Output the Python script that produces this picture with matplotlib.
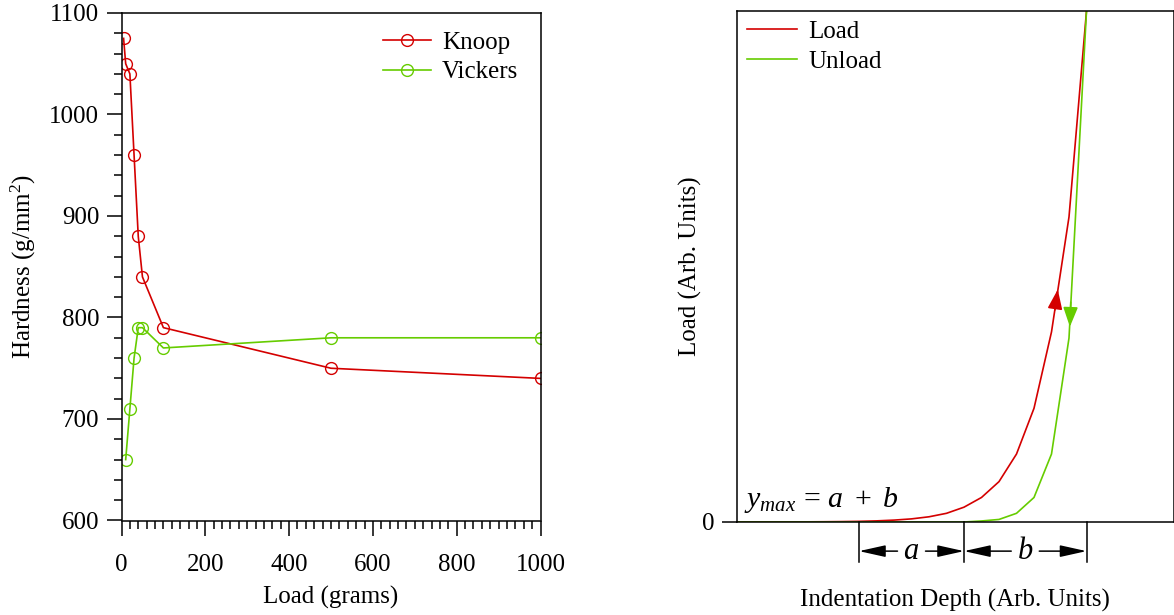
import numpy as np
import matplotlib.pyplot as plt
from matplotlib.ticker import MultipleLocator
import matplotlib.transforms as mtransforms

plt.rcParams['font.family'] = 'Liberation Serif'
plt.rcParams['mathtext.fontset'] = 'custom'
plt.rcParams['mathtext.rm'] = 'Liberation Serif'
plt.rcParams['mathtext.it'] = 'Liberation Serif:italic'
plt.rcParams['font.size'] = 18

RED = '#d40000'
GREEN = '#66cc00'

# hardness vs load
knoop_load = [5, 10, 20, 30, 40, 50, 100, 500, 1000]
knoop_hard = [1075, 1050, 1040, 960, 880, 840, 790, 750, 740]
vickers_load = [10, 20, 30, 40, 50, 100, 500, 1000]
vickers_hard = [660, 710, 760, 790, 790, 770, 780, 780]

# load / unload curves (arbitrary units)
depth = list(range(21))
load_curve = [0, 0.0001, 0.0001, 0.0002, 0.0003, 0.0005, 0.0008, 0.0013, 0.0022,
              0.0037, 0.0061, 0.0102, 0.017, 0.029, 0.048, 0.079, 0.133, 0.2225,
              0.372, 0.597, 1.0]
unload_curve = [0, 0, 0, 0, 0, 0, 0, 0, 0, 0, 0, 0, 0, 0, 0.002, 0.005, 0.017,
                0.048, 0.133, 0.36, 1.0]
a_span = (7, 13)
b_span = (13, 20)

W, H = 1174, 615
fig = plt.figure(figsize=(W / 100, H / 100), dpi=100)

# ---- left panel
ax1 = fig.add_axes([121.5 / W, 1 - 520.5 / H, 419 / W, 507.5 / H])
ax1.plot(knoop_load, knoop_hard, color=RED, lw=1.2, marker='o', ms=8.5,
         mfc='none', mec=RED, mew=1.0, label='Knoop')
ax1.plot(vickers_load, vickers_hard, color=GREEN, lw=1.2, marker='o', ms=8.5,
         mfc='none', mec=GREEN, mew=1.0, label='Vickers')
ax1.set_xlim(0, 1000)
ax1.set_ylim(600, 1100)
ax1.xaxis.set_major_locator(MultipleLocator(200))
ax1.xaxis.set_minor_locator(MultipleLocator(20))
ax1.yaxis.set_major_locator(MultipleLocator(100))
ax1.yaxis.set_minor_locator(MultipleLocator(20))
ax1.tick_params(which='both', direction='out', top=False, right=False, width=1.1)
ax1.tick_params(which='major', length=11)
ax1.tick_params(axis='y', which='major', pad=5)
ax1.tick_params(axis='x', which='major', pad=13)
ax1.tick_params(which='minor', length=6)
ax1.set_xlabel('Load (grams)', labelpad=7)
ax1.set_ylabel('Hardness (g/mm$^{2}$)', labelpad=8)
for s in ax1.spines.values():
    s.set_linewidth(1.1)
ax1.legend(loc='upper left', bbox_to_anchor=(383 / W, 1 - 31 / H),
           bbox_transform=fig.transFigure, frameon=False, borderpad=0,
           borderaxespad=0, handlelength=1.9, handletextpad=0.45,
           labelspacing=0.3)

# ---- right panel
ax2 = fig.add_axes([736.5 / W, 1 - 522 / H, 437.5 / W, 511 / H])
ax2.plot(depth, load_curve, color=RED, lw=1.2, label='Load')
ax2.plot(depth, unload_curve, color=GREEN, lw=1.2, label='Unload')
ax2.set_xlim(0, 25)
ax2.set_ylim(0, 1)
ax2.set_xticks([])
ax2.set_yticks([0])
ax2.tick_params(direction='out', length=11, width=1.1, pad=5)
for s in ax2.spines.values():
    s.set_linewidth(1.1)
ax2.set_xlabel('Indentation Depth (Arb. Units)', labelpad=48)
ax2.set_ylabel('Load (Arb. Units)', labelpad=0)
ax2.legend(loc='upper left', bbox_to_anchor=(747 / W, 1 - 20 / H),
           bbox_transform=fig.transFigure, frameon=False, borderpad=0,
           borderaxespad=0, handlelength=2.0, handletextpad=0.45,
           labelspacing=0.3)

# direction arrows on the curves
ax2.annotate('', xy=(18.36, 0.455), xytext=(18.19, 0.415),
             arrowprops=dict(arrowstyle='-|>,head_length=0.8,head_width=0.3',
                             color=RED, lw=1.2, mutation_scale=15,
                             shrinkA=0, shrinkB=0))
ax2.annotate('', xy=(19.05, 0.382), xytext=(19.1, 0.43),
             arrowprops=dict(arrowstyle='-|>,head_length=0.8,head_width=0.3',
                             color=GREEN, lw=1.2, mutation_scale=15,
                             shrinkA=0, shrinkB=0))

ax2.text(0.45, 0.03, r'$y_{max}\,=\,a\ +\ b$', fontsize=21.5, ha='left',
         va='baseline')

# dimension lines below the axis
trans = mtransforms.blended_transform_factory(ax2.transData, ax2.transAxes)
for xv in (a_span[0], a_span[1], b_span[1]):
    ax2.plot([xv, xv], [0, -0.078], color='black', lw=1.1, transform=trans,
             clip_on=False)
dim_y = -0.057
arrow_style = dict(arrowstyle='-|>,head_length=0.9,head_width=0.2',
                   color='black', lw=1.1, mutation_scale=18,
                   shrinkA=0, shrinkB=0)
for (x0, x1), name in ((a_span, 'a'), (b_span, 'b')):
    mid = (x0 + x1) / 2
    ax2.annotate('', xy=(x0, dim_y), xytext=(mid - 0.8, dim_y),
                 xycoords=trans, textcoords=trans, arrowprops=arrow_style,
                 annotation_clip=False)
    ax2.annotate('', xy=(x1, dim_y), xytext=(mid + 0.8, dim_y),
                 xycoords=trans, textcoords=trans, arrowprops=arrow_style,
                 annotation_clip=False)
    ax2.text(mid, dim_y, '$' + name + '$', fontsize=22, ha='center',
             va='center', transform=trans)

fig.savefig('out.png', dpi=100)
